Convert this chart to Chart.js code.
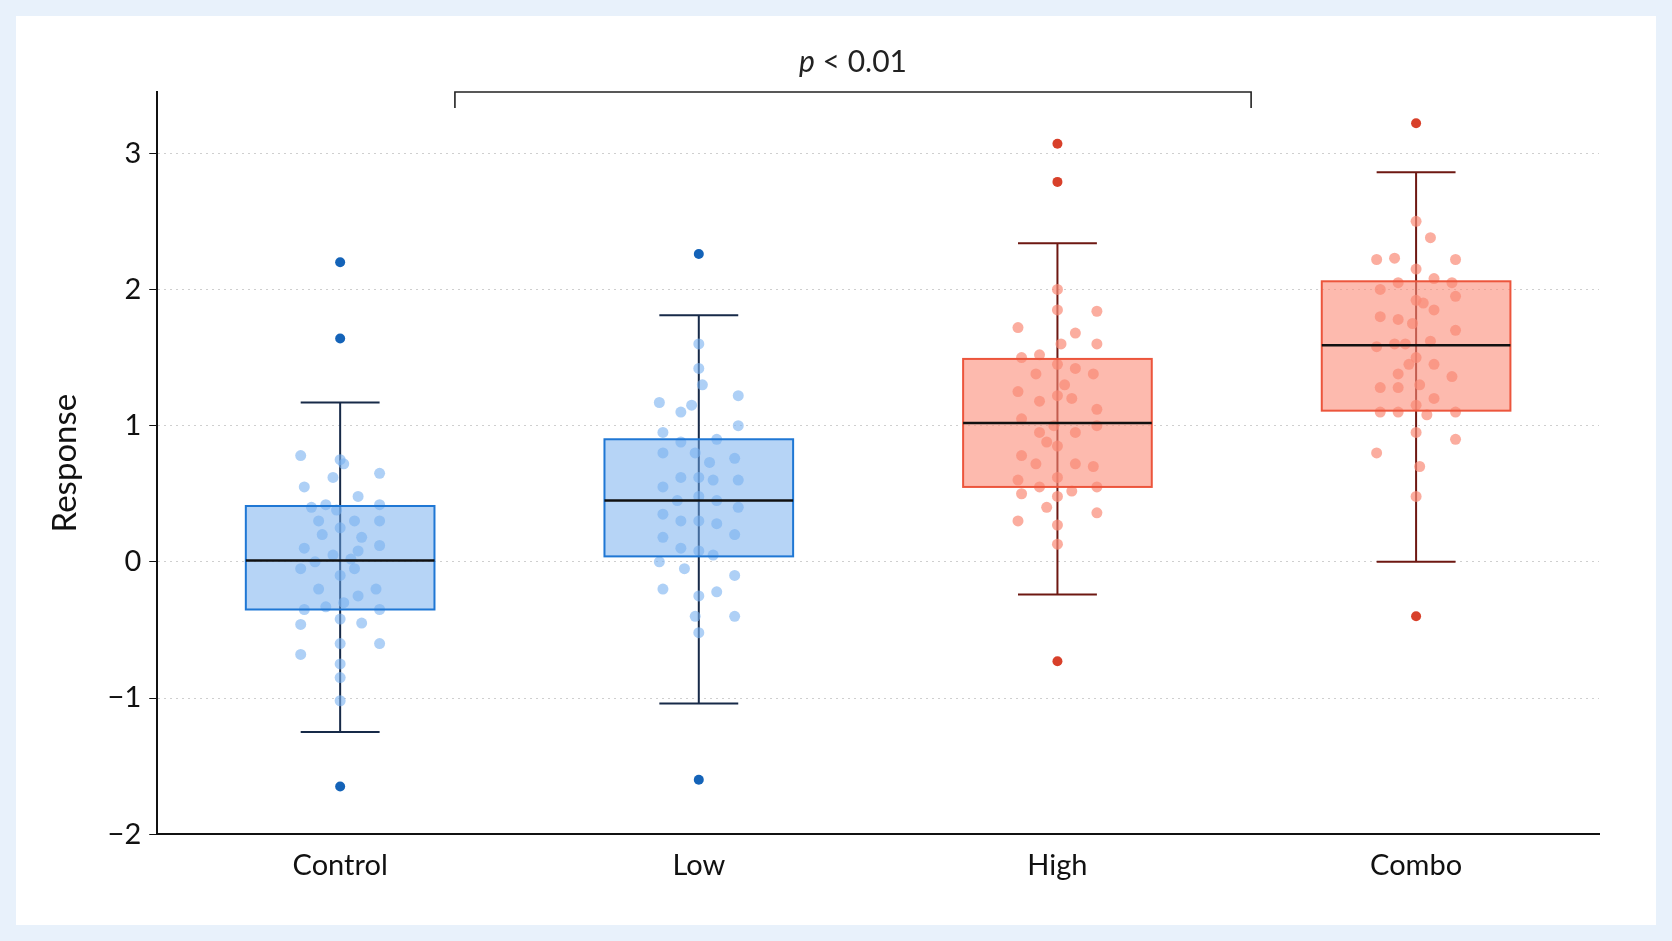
<!DOCTYPE html>
<html>
<head>
<meta charset="utf-8">
<script src="https://cdn.jsdelivr.net/npm/chart.js@4/dist/chart.umd.min.js"></script>
<style>
  html, body { margin: 0; padding: 0; background: #e8f1fb; }
  #card { position: absolute; left: 16px; top: 16px; width: 1640px; height: 909px; background: #fff; }
  canvas { display: block; }
</style>
</head>
<body>
<div id="card"><canvas id="chart" width="1640" height="909"></canvas></div>
<script>
const groups = ['Control', 'Low', 'High', 'Combo'];
const q1 = [-0.35, 0.04, 0.55, 1.11];
const q3 = [0.41, 0.90, 1.49, 2.06];
const medians = [0.01, 0.45, 1.02, 1.59];
const whiskerLow = [-1.25, -1.04, -0.24, 0.00];
const whiskerHigh = [1.17, 1.81, 2.34, 2.86];
const outliers = [[2.20, 1.64, -1.65], [2.26, -1.60], [3.07, 2.79, -0.73], [3.22, -0.40]];

// jittered observations: [x offset, value]
const pointsControl = [[-0.11,0.78],[-0.1,0.55],[-0.08,0.4],[-0.06,0.3],[-0.1,0.1],[-0.07,0.0],[-0.11,-0.05],[-0.06,-0.2],[-0.1,-0.35],[-0.11,-0.46],[-0.11,-0.68],[-0.02,0.62],[0.0,0.75],[0.01,0.72],[-0.01,0.38],[0.0,0.25],[-0.02,0.05],[0.0,-0.1],[0.01,-0.3],[0.0,-0.42],[0.0,-0.6],[0.0,-0.75],[0.0,-0.85],[0.0,-1.02],[0.05,0.48],[0.04,0.3],[0.06,0.18],[0.05,0.08],[0.04,-0.05],[0.05,-0.25],[0.06,-0.45],[0.11,0.65],[0.11,0.42],[0.11,0.3],[0.11,0.12],[0.1,-0.2],[0.11,-0.35],[0.11,-0.6],[-0.04,0.42],[-0.04,-0.33],[0.03,0.02],[-0.05,0.2]];
const pointsLow = [[-0.11,1.17],[-0.1,0.95],[-0.1,0.8],[-0.1,0.55],[-0.1,0.35],[-0.1,0.18],[-0.11,0.0],[-0.1,-0.2],[-0.05,1.1],[-0.05,0.88],[-0.05,0.62],[-0.06,0.45],[-0.05,0.3],[-0.05,0.1],[-0.04,-0.05],[0.0,1.6],[0.0,1.42],[0.01,1.3],[-0.01,0.8],[0.0,0.62],[0.0,0.48],[0.0,0.3],[0.0,0.08],[0.0,-0.25],[0.0,-0.52],[-0.01,-0.4],[0.05,0.9],[0.04,0.6],[0.05,0.45],[0.05,0.28],[0.04,0.05],[0.05,-0.22],[0.11,1.22],[0.11,1.0],[0.1,0.76],[0.11,0.6],[0.11,0.4],[0.1,0.2],[0.1,-0.1],[0.1,-0.4],[-0.02,1.15],[0.03,0.73]];
const pointsHigh = [[-0.11,1.72],[-0.1,1.5],[-0.11,1.25],[-0.1,1.05],[-0.1,0.78],[-0.11,0.6],[-0.1,0.5],[-0.11,0.3],[-0.05,1.52],[-0.06,1.38],[-0.05,1.18],[-0.05,0.95],[-0.06,0.72],[-0.05,0.55],[0.0,2.0],[0.0,1.85],[0.01,1.6],[0.0,1.45],[0.0,1.22],[-0.01,1.0],[0.0,0.85],[0.0,0.62],[0.0,0.48],[0.0,0.27],[0.0,0.13],[0.05,1.68],[0.05,1.42],[0.04,1.2],[0.05,0.95],[0.05,0.72],[0.04,0.52],[0.11,1.84],[0.11,1.6],[0.1,1.38],[0.11,1.12],[0.11,1.0],[0.1,0.7],[0.11,0.55],[0.11,0.36],[-0.03,0.88],[0.02,1.3],[-0.03,0.4]];
const pointsCombo = [[-0.11,2.22],[-0.1,2.0],[-0.1,1.8],[-0.11,1.58],[-0.1,1.28],[-0.1,1.1],[-0.11,0.8],[-0.06,2.23],[-0.05,2.05],[-0.05,1.78],[-0.06,1.6],[-0.05,1.38],[-0.05,1.28],[-0.05,1.1],[0.0,2.5],[0.0,2.15],[0.0,1.92],[-0.01,1.75],[0.0,1.5],[0.01,1.3],[0.0,1.15],[0.0,0.95],[0.01,0.7],[0.0,0.48],[0.04,2.38],[0.05,2.08],[0.05,1.85],[0.04,1.62],[0.05,1.45],[0.05,1.2],[0.11,2.22],[0.1,2.05],[0.11,1.95],[0.11,1.7],[0.1,1.36],[0.11,1.1],[0.11,0.9],[-0.03,1.6],[0.03,1.08],[-0.02,1.45],[0.02,1.9]];
const allPoints = [pointsControl, pointsLow, pointsHigh, pointsCombo];

const yTicks = [-2, -1, 0, 1, 2, 3];
const bracketFrom = 0.32, bracketTo = 2.54, bracketLevel = 3.45;

const boxFill = ['rgba(110,170,238,0.5)', 'rgba(110,170,238,0.5)', 'rgba(252,140,120,0.6)', 'rgba(252,140,120,0.6)'];
const boxEdge = ['#1f77d4', '#1f77d4', '#ec553c', '#ec553c'];
const whiskerColor = ['#172a48', '#172a48', '#6e1812', '#6e1812'];
const dotColor = ['rgba(120,176,240,0.6)', 'rgba(120,176,240,0.6)', 'rgba(250,138,118,0.7)', 'rgba(250,138,118,0.7)'];
const outlierColor = ['#1463b8', '#1463b8', '#d8402a', '#d8402a'];

const FONT = 'Lato, "Noto Sans", sans-serif';

const datasets = [];
allPoints.forEach((pts, i) => {
    datasets.push({
        data: pts.map(p => ({ x: i + p[0], y: p[1] })),
        backgroundColor: dotColor[i],
        borderWidth: 0,
        pointRadius: 5.5,
        order: 1
    });
});
outliers.forEach((vals, i) => {
    datasets.push({
        data: vals.map(v => ({ x: i, y: v })),
        backgroundColor: outlierColor[i],
        borderWidth: 0,
        pointRadius: 5,
        order: 0
    });
});

const boxPlugin = {
    id: 'boxes',
    beforeDatasetsDraw(chart) {
        const { ctx, scales: { x, y } } = chart;
        ctx.save();
        groups.forEach((g, i) => {
            const cx = x.getPixelForValue(i);
            const half = x.getPixelForValue(i + 0.263) - cx;
            const cap = x.getPixelForValue(i + 0.11) - cx;
            ctx.strokeStyle = whiskerColor[i];
            ctx.lineWidth = 2;
            ctx.beginPath();
            ctx.moveTo(cx, y.getPixelForValue(whiskerLow[i]));
            ctx.lineTo(cx, y.getPixelForValue(whiskerHigh[i]));
            [whiskerLow[i], whiskerHigh[i]].forEach(v => {
                ctx.moveTo(cx - cap, y.getPixelForValue(v));
                ctx.lineTo(cx + cap, y.getPixelForValue(v));
            });
            ctx.stroke();
            const top = y.getPixelForValue(q3[i]);
            const bot = y.getPixelForValue(q1[i]);
            ctx.fillStyle = boxFill[i];
            ctx.fillRect(cx - half, top, half * 2, bot - top);
        });
        ctx.restore();
    },
    afterDatasetsDraw(chart) {
        const { ctx, scales: { x, y } } = chart;
        ctx.save();
        groups.forEach((g, i) => {
            const cx = x.getPixelForValue(i);
            const half = x.getPixelForValue(i + 0.263) - cx;
            const top = y.getPixelForValue(q3[i]);
            const bot = y.getPixelForValue(q1[i]);
            ctx.strokeStyle = boxEdge[i];
            ctx.lineWidth = 2;
            ctx.strokeRect(cx - half, top, half * 2, bot - top);
            ctx.strokeStyle = '#111';
            ctx.lineWidth = 2.5;
            ctx.beginPath();
            ctx.moveTo(cx - half, y.getPixelForValue(medians[i]));
            ctx.lineTo(cx + half, y.getPixelForValue(medians[i]));
            ctx.stroke();
        });
        // significance bracket
        const bx1 = x.getPixelForValue(bracketFrom), bx2 = x.getPixelForValue(bracketTo);
        const by = y.getPixelForValue(bracketLevel);
        ctx.strokeStyle = '#222';
        ctx.lineWidth = 1.6;
        ctx.beginPath();
        ctx.moveTo(bx1, by + 16);
        ctx.lineTo(bx1, by);
        ctx.lineTo(bx2, by);
        ctx.lineTo(bx2, by + 16);
        ctx.stroke();
        ctx.fillStyle = '#222';
        ctx.textBaseline = 'alphabetic';
        const italic = 'italic 30px ' + FONT, normal = '30px ' + FONT;
        ctx.font = italic;
        const w1 = ctx.measureText('p').width;
        ctx.font = normal;
        const w2 = ctx.measureText(' < 0.01').width;
        const sx = (bx1 + bx2) / 2 - (w1 + w2) / 2;
        ctx.font = italic;
        ctx.fillText('p', sx, by - 20);
        ctx.font = normal;
        ctx.fillText(' < 0.01', sx + w1, by - 20);
        ctx.restore();
    }
};

new Chart(document.getElementById('chart'), {
    type: 'scatter',
    data: { datasets },
    plugins: [boxPlugin],
    options: {
        responsive: false,
        animation: false,
        layout: { padding: { top: 76, right: 57, left: 16, bottom: 36 } },
        plugins: { legend: { display: false }, tooltip: { enabled: false } },
        scales: {
            x: {
                type: 'linear',
                min: -0.51,
                max: 3.51,
                afterBuildTicks: s => { s.ticks = groups.map((g, i) => ({ value: i })); },
                ticks: { callback: v => groups[v], color: '#111', font: { family: FONT, size: 29 }, padding: 6 },
                grid: { display: false },
                border: { color: '#111', width: 2 }
            },
            y: {
                min: -2,
                max: 3.45,
                afterBuildTicks: s => { s.ticks = yTicks.map(v => ({ value: v })); },
                ticks: { callback: v => String(v).replace('-', '\u2212'), color: '#111', font: { family: FONT, size: 29 }, padding: 8 },
                grid: { color: '#cfcfcf', tickColor: '#111', tickLength: 8, tickBorderDash: [] },
                border: { color: '#111', width: 2, dash: [2, 4] },
                title: { display: true, text: 'Response', color: '#111', font: { family: FONT, size: 33 }, padding: 14 }
            }
        }
    }
});
</script>
</body>
</html>
